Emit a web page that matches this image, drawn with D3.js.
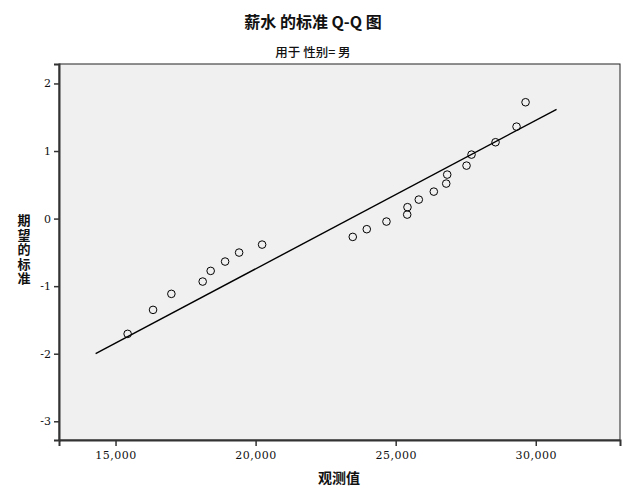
<!DOCTYPE html>
<html><head><meta charset="utf-8">
<script src="https://cdn.jsdelivr.net/npm/d3@7"></script>
<style>body{margin:0;background:#fff}svg{display:block}</style>
</head><body>
<svg id="c" width="627" height="502"></svg>
<script>
const observed = [15432,16339,16993,18111,18396,18911,19411,20232,23468,23968,24671,25411,25421,25825,26361,26804,26839,27529,27707,28564,29314,29636];
const expected = [-1.706,-1.351,-1.114,-0.932,-0.774,-0.636,-0.503,-0.385,-0.271,-0.157,-0.044,0.059,0.169,0.281,0.399,0.518,0.651,0.784,0.947,1.130,1.361,1.722];
const refLineX = [14289, 30743];
const refLineY = [-2.0, 1.618];
const xTicks = [15000,20000,25000,30000];
const yTicks = [2,1,0,-1,-2,-3];
const title = "薪水 的标准 Q-Q 图";
const subtitle = "用于 性别= 男";
const xTitle = "观测值";
const yTitle = "期望的标准";

const svg = d3.select("#c");
const L=59, R=620, T=64, B=440;
const x = d3.scaleLinear().domain([12982,33007]).range([L,R]);
const y = d3.scaleLinear().domain([-3.277,2.288]).range([B,T]);
const cjk = "'Noto Sans CJK SC','Noto Sans',sans-serif";
const tickFont = "'DejaVu Serif','Liberation Serif',serif";

svg.append("rect").attr("x",L).attr("y",T).attr("width",R-L).attr("height",B-T)
  .attr("fill","#f0f0f0").attr("stroke","#222").attr("stroke-width",1);

const gx = svg.append("g").attr("transform",`translate(0,${B})`)
  .call(d3.axisBottom(x).tickValues(xTicks).tickSize(6).tickPadding(5).tickFormat(d3.format(",")));
gx.select(".domain").attr("stroke","#333").attr("stroke-width",2);
gx.selectAll(".tick line").attr("stroke","#333").attr("stroke-width",1.5);
gx.selectAll("text").attr("font-family",tickFont).attr("font-size",11).attr("fill","#111").attr("letter-spacing","0.5px");

const gy = svg.append("g").attr("transform",`translate(${L},0)`)
  .call(d3.axisLeft(y).tickValues(yTicks).tickSize(5).tickPadding(3).tickFormat(d => String(d)));
gy.select(".domain").attr("stroke","#333").attr("stroke-width",2);
gy.selectAll(".tick line").attr("stroke","#333").attr("stroke-width",1.5);
gy.selectAll("text").attr("font-family",tickFont).attr("font-size",11).attr("fill","#111");

svg.append("line")
  .attr("x1",x(refLineX[0])).attr("y1",y(refLineY[0]))
  .attr("x2",x(refLineX[1])).attr("y2",y(refLineY[1]))
  .attr("stroke","#000").attr("stroke-width",1.4);

svg.append("g").selectAll("circle").data(observed).join("circle")
  .attr("cx",d=>x(d)).attr("cy",(d,i)=>y(expected[i])).attr("r",3.8)
  .attr("fill","none").attr("stroke","#000").attr("stroke-width",1);

svg.append("text").attr("x",313).attr("y",28).attr("text-anchor","middle")
  .attr("font-family",cjk).attr("font-weight","bold").attr("font-size",16).attr("fill","#111").text(title);
svg.append("text").attr("x",313).attr("y",57).attr("text-anchor","middle")
  .attr("font-family",cjk).attr("font-weight","500").attr("font-size",12.5).attr("fill","#111").text(subtitle);
svg.append("text").attr("x",339).attr("y",483).attr("text-anchor","middle")
  .attr("font-family",cjk).attr("font-weight","bold").attr("font-size",14).attr("fill","#111").text(xTitle);
svg.append("text").attr("x",24).attr("y",250).attr("text-anchor","middle")
  .style("writing-mode","vertical-rl").attr("letter-spacing","1.5px")
  .attr("font-family",cjk).attr("font-weight","bold").attr("font-size",13).attr("fill","#111").text(yTitle);
</script>
</body></html>
